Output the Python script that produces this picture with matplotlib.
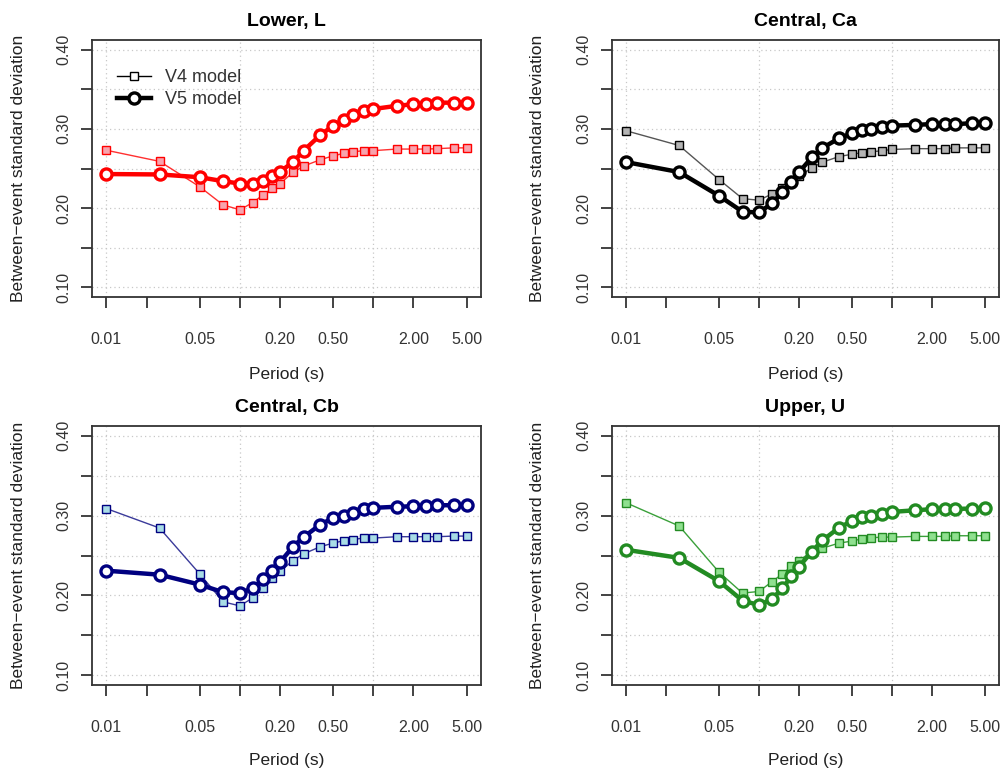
import matplotlib
matplotlib.use("Agg")
import matplotlib.pyplot as plt
from matplotlib.ticker import FixedLocator, FixedFormatter, NullLocator
from matplotlib.lines import Line2D

plt.rcParams['font.family'] = ['Liberation Sans', 'DejaVu Sans']

periods = [0.01, 0.025, 0.05, 0.075, 0.1, 0.125, 0.15, 0.175, 0.2, 0.25, 0.3, 0.4,
           0.5, 0.6, 0.7, 0.85, 1.0, 1.5, 2.0, 2.5, 3.0, 4.0, 5.0]

titles = ["Lower, L", "Central, Ca", "Central, Cb", "Upper, U"]

v4_lower = [0.273, 0.259, 0.227, 0.204, 0.198, 0.207, 0.217, 0.225, 0.231, 0.245, 0.253, 0.261,
            0.266, 0.269, 0.271, 0.2725, 0.2725, 0.2745, 0.2745, 0.2745, 0.275, 0.276, 0.276]
v5_lower = [0.243, 0.2425, 0.239, 0.234, 0.231, 0.231, 0.234, 0.240, 0.246, 0.258, 0.2725, 0.292,
            0.304, 0.311, 0.3175, 0.322, 0.325, 0.329, 0.331, 0.331, 0.333, 0.333, 0.333]

v4_ca = [0.2975, 0.279, 0.236, 0.212, 0.210, 0.218, 0.226, 0.233, 0.240, 0.251, 0.258, 0.265,
         0.268, 0.270, 0.271, 0.2725, 0.274, 0.275, 0.275, 0.275, 0.276, 0.276, 0.276]
v5_ca = [0.258, 0.2455, 0.2155, 0.1955, 0.1946, 0.206, 0.220, 0.233, 0.2455, 0.264, 0.276, 0.288,
         0.2945, 0.299, 0.300, 0.3025, 0.304, 0.305, 0.306, 0.306, 0.306, 0.307, 0.307]

v4_cb = [0.3087, 0.2844, 0.227, 0.192, 0.187, 0.197, 0.209, 0.2215, 0.230, 0.2437, 0.252, 0.261,
         0.2655, 0.2685, 0.270, 0.2718, 0.2718, 0.2735, 0.2735, 0.2735, 0.2735, 0.2743, 0.2743]
v5_cb = [0.231, 0.226, 0.2136, 0.204, 0.203, 0.209, 0.220, 0.231, 0.2416, 0.261, 0.273, 0.2886,
         0.297, 0.300, 0.303, 0.308, 0.3096, 0.311, 0.3116, 0.312, 0.3129, 0.3129, 0.3129]

v4_upper = [0.3158, 0.2869, 0.229, 0.203, 0.205, 0.2173, 0.227, 0.2366, 0.2437, 0.255, 0.2592, 0.2655,
            0.268, 0.271, 0.2722, 0.273, 0.273, 0.2739, 0.2739, 0.2739, 0.2747, 0.2747, 0.2747]
v5_upper = [0.2571, 0.247, 0.2178, 0.1935, 0.188, 0.1956, 0.209, 0.224, 0.236, 0.255, 0.2689, 0.2848,
            0.2932, 0.2982, 0.300, 0.3025, 0.3045, 0.3066, 0.3079, 0.3079, 0.3083, 0.3087, 0.3095]

v4_all = [v4_lower, v4_ca, v4_cb, v4_upper]
v5_all = [v5_lower, v5_ca, v5_cb, v5_upper]

line_colors = ["#ff0000", "#000000", "#000080", "#228b22"]
v4_line_colors = ["#ff3030", "#555555", "#3a3a9a", "#3aa03a"]
fill_colors = ["#f7a3ad", "#b4b4b4", "#a8dce6", "#8fe08f"]

x_ticks = [0.01, 0.02, 0.05, 0.1, 0.2, 0.5, 1, 2, 5]
x_tick_labels = ["0.01", "", "0.05", "", "0.20", "0.50", "", "2.00", "5.00"]
y_ticks = [0.10, 0.15, 0.20, 0.25, 0.30, 0.35, 0.40]
y_tick_labels = ["0.10", "", "0.20", "", "0.30", "", "0.40"]

W, H = 1005, 774
fig = plt.figure(figsize=(W / 100, H / 100), dpi=100)

boxes = [(92, 40, 481, 297), (612, 40, 999, 297), (92, 426, 481, 685), (612, 426, 999, 685)]
xlabel_y = [375, 375, 760, 760]
ylabel_x = [18, 538, 18, 538]

for i, (l, t, r, b) in enumerate(boxes):
    ax = fig.add_axes([l / W, (H - b) / H, (r - l) / W, (b - t) / H])
    ax.set_xscale('log')
    ax.set_xlim(10 ** -2.108, 10 ** 0.807)
    ax.set_ylim(0.088, 0.412)
    for gx in [0.01, 0.1, 1]:
        ax.axvline(gx, color='#c8c8c8', lw=0.9, ls=(0, (1, 2.5)), zorder=0)
    for gy in y_ticks:
        ax.axhline(gy, color='#c8c8c8', lw=0.9, ls=(0, (1, 2.5)), zorder=0)

    ax.plot(periods, v4_all[i], color=v4_line_colors[i], lw=1.0, marker='s', ms=6,
            mfc=fill_colors[i], mec=line_colors[i], mew=1.0, zorder=3, label='V4 model')
    ax.plot(periods, v5_all[i], color=line_colors[i], lw=3.2, marker='o', ms=8,
            mfc='white', mec=line_colors[i], mew=2.4, zorder=4, label='V5 model')

    ax.xaxis.set_major_locator(FixedLocator(x_ticks))
    ax.xaxis.set_major_formatter(FixedFormatter(x_tick_labels))
    ax.xaxis.set_minor_locator(NullLocator())
    ax.yaxis.set_major_locator(FixedLocator(y_ticks))
    ax.yaxis.set_major_formatter(FixedFormatter(y_tick_labels))
    ax.tick_params(axis='x', length=8, width=1.2, pad=17, labelsize=11.5, color='#222222',
                   labelcolor='#333333')
    ax.tick_params(axis='y', length=8, width=1.2, pad=7, labelsize=11.5, color='#222222',
                   labelcolor='#333333', labelrotation=90)
    for lab in ax.get_yticklabels():
        lab.set_va('center')
    for s in ax.spines.values():
        s.set_color('#333333')
        s.set_linewidth(1.3)
    ax.set_title(titles[i], fontsize=14, fontweight='bold', pad=10)
    ax.set_xlabel('Period (s)', fontsize=12.5, color='#222222', va='center')
    ax.xaxis.set_label_coords(0.5, (b - xlabel_y[i]) / (b - t))
    ax.set_ylabel('Between\u2212event standard deviation', fontsize=12.5, color='#222222',
                  va='center')
    ax.yaxis.set_label_coords((ylabel_x[i] - l) / (r - l), 0.5)

    if i == 0:
        handles = [Line2D([], [], color='black', lw=1.0, marker='s', ms=6, mfc='white',
                          mec='black', mew=1.0),
                   Line2D([], [], color='black', lw=3.2, marker='o', ms=8, mfc='white',
                          mec='black', mew=2.4)]
        ax.legend(handles, ['V4 model', 'V5 model'], loc='upper left', frameon=False,
                  fontsize=13, bbox_to_anchor=(0.046, 0.915), borderaxespad=0,
                  handlelength=1.85, handletextpad=0.8, labelspacing=0.3,
                  labelcolor='#333333')

fig.savefig('out.png', dpi=100)
